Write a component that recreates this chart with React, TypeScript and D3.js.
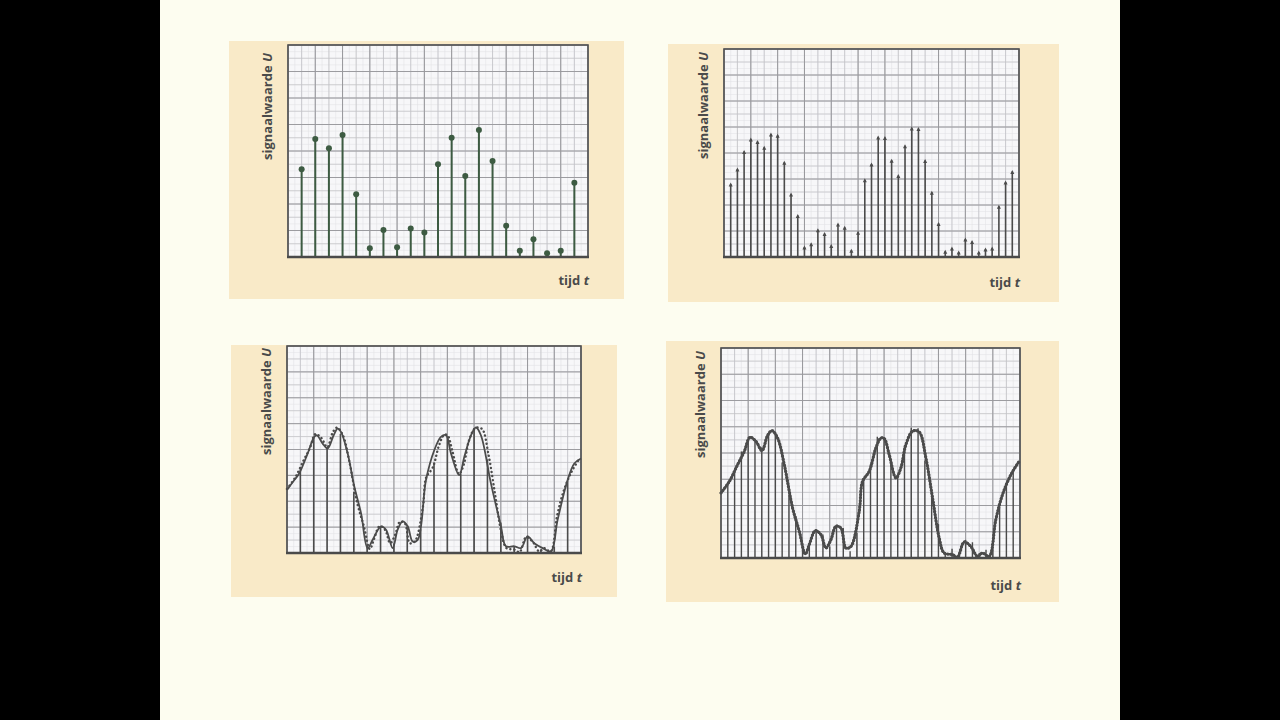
import React from "react";
import * as d3 from "d3";

// ---------- DATA ----------
// Panel 1: coarse sampling, samples at t = 1..21 (time axis 0..22)
const samplesCoarse = [3.31, 4.45, 4.1, 4.6, 2.37, 0.33, 1.02, 0.37, 1.08, 0.92, 3.5, 4.5, 3.06, 4.79, 3.62, 1.18, 0.24, 0.67, 0.14, 0.24, 2.8];
// Panel 2: fine sampling, samples at t = 1..43 (time axis 0..44)
const samplesFine = [
  2.81, 3.38, 4.06, 4.54, 4.44, 4.22, 4.73, 4.68, 3.64, 2.42, 1.6, 0.38, 0.51, 1.05, 0.9, 0.44, 1.27, 1.14, 0.26, 0.95,
  2.97, 3.58, 4.62, 4.6, 3.72, 3.13, 4.28, 4.96, 4.94, 3.71, 2.49, 1.29, 0.22, 0.35, 0.19, 0.69, 0.6, 0.19, 0.31, 0.35,
  1.95, 2.88, 3.29,
];
// Original signal (time axis 0..44)
const signalT = [0, 1.23, 2.45, 3.43, 4.26, 5.15, 6.03, 6.86, 7.5, 8.33, 9.31, 10.54, 11.52, 12.4, 12.99, 13.87, 14.7, 15.44, 16.18, 16.91, 17.65, 18.38, 19.12, 20.34, 20.83, 21.81, 22.79, 23.53, 24.02, 24.75, 25.74, 26.47, 27.21, 28.19, 29.17, 30.15, 31.13, 32.11, 32.84, 34.07, 34.8, 35.78, 36.76, 37.75, 38.48, 39.46, 40.44, 41.42, 42.65, 43.87];
const signalU = [2.48, 2.92, 3.56, 4.06, 4.6, 4.44, 4.09, 4.67, 4.85, 4.57, 3.56, 1.9, 1.02, 0.15, 0.51, 1.04, 0.89, 0.38, 0.7, 1.21, 1.14, 0.38, 0.44, 1.78, 2.92, 3.3, 4.19, 4.57, 4.55, 3.94, 3.05, 3.43, 4.32, 4.83, 4.8, 3.81, 2.29, 0.76, 0.19, 0.13, 0.03, 0.61, 0.44, 0.06, 0.19, 0.06, 1.46, 2.41, 3.17, 3.68];
// Reconstruction from the coarse samples (time axis 0..22)
const reconT = [0, 0.55, 0.92, 1.55, 2.04, 2.24, 2.67, 3.04, 3.49, 3.79, 4.04, 4.54, 5.04, 5.54, 6.03, 6.41, 7.03, 7.41, 7.91, 8.28, 8.65, 9.03, 9.4, 9.78, 10.4, 11.02, 11.52, 11.9, 12.27, 12.89, 13.27, 13.77, 14.14, 14.51, 15.26, 16.01, 16.38, 17.01, 17.51, 18.0, 18.5, 19.13, 19.75, 20.25, 21.0, 21.5, 22.0];
const reconU = [2.44, 2.82, 3.08, 3.85, 4.49, 4.55, 4.23, 4.04, 4.55, 4.81, 4.68, 3.85, 2.56, 1.54, 0.19, 0.51, 1.03, 0.9, 0.19, 0.9, 1.22, 1.03, 0.45, 0.51, 2.82, 3.97, 4.49, 4.55, 3.85, 3.01, 3.72, 4.55, 4.85, 4.55, 2.69, 1.03, 0.26, 0.26, 0.19, 0.64, 0.38, 0.19, 0.06, 1.28, 2.82, 3.46, 3.65];

const yLabel = "signaalwaarde ";
const yVar = "U";
const xLabel = "tijd ";
const xVar = "t";
const uMax = 8;

// ---------- STYLE ----------
const FONT = "'Open Sans', 'DejaVu Sans', sans-serif";
const TEXT = "#4a4a4a";
const INK = "#4b4b4b";
const GREEN = "#3d5b42";
const BEIGE = "#f9eac8";
const PAPER = "#f7f7f9";

type Box = { x: number; y: number; w: number; h: number };
type PanelProps = {
  bg: Box;
  frame: Box;
  tMax: number;
  labelDy: number;
  xLabDy: number;
  children: (x: d3.ScaleLinear<number, number>, y: d3.ScaleLinear<number, number>) => React.ReactNode;
};

function Panel({ bg, frame, tMax, labelDy, xLabDy, children }: PanelProps) {
  const x = d3.scaleLinear().domain([0, tMax]).range([frame.x, frame.x + frame.w]);
  const y = d3.scaleLinear().domain([0, uMax]).range([frame.y + frame.h, frame.y]);
  const step = tMax / 22;
  const vFaint = d3.range(0, tMax + 1e-6, step / 2);
  const vMid = d3.range(0, tMax + 1e-6, step);
  const vMajor = d3.range(0, tMax + 1e-6, step * 2);
  const hFaint = d3.range(0, uMax + 1e-6, 0.25);
  const hMid = d3.range(0, uMax + 1e-6, 0.5);
  const hMajor = d3.range(0, uMax + 1e-6, 1);
  const x0 = frame.x, x1 = frame.x + frame.w, y0 = frame.y, y1 = frame.y + frame.h;
  return (
    <g>
      <rect x={bg.x} y={bg.y} width={bg.w} height={bg.h} fill={BEIGE} />
      <rect x={x0} y={y0} width={frame.w} height={frame.h} fill={PAPER} />
      {hFaint.map((v, i) => <line key={"hf" + i} x1={x0} x2={x1} y1={y(v)} y2={y(v)} stroke="#e4e4e8" strokeWidth={0.6} />)}
      {vFaint.map((v, i) => <line key={"vf" + i} x1={x(v)} x2={x(v)} y1={y0} y2={y1} stroke="#e2e2e6" strokeWidth={0.6} />)}
      {hMid.map((v, i) => <line key={"hm" + i} x1={x0} x2={x1} y1={y(v)} y2={y(v)} stroke="#c6c6ca" strokeWidth={0.8} />)}
      {vMid.map((v, i) => <line key={"vm" + i} x1={x(v)} x2={x(v)} y1={y0} y2={y1} stroke="#c2c2c6" strokeWidth={0.8} />)}
      {hMajor.map((v, i) => <line key={"hM" + i} x1={x0} x2={x1} y1={y(v)} y2={y(v)} stroke="#9c9ca0" strokeWidth={1} />)}
      {vMajor.map((v, i) => <line key={"vM" + i} x1={x(v)} x2={x(v)} y1={y0} y2={y1} stroke="#98989c" strokeWidth={1} />)}
      <rect x={x0} y={y0} width={frame.w} height={frame.h} fill="none" stroke="#505050" strokeWidth={1.6} />
      {children(x, y)}
      <line x1={x0 - 1} x2={x1 + 1} y1={y1} y2={y1} stroke="#4a4a4a" strokeWidth={2.6} />
      <text
        transform={`translate(${x0 - 16},${y0 + labelDy}) rotate(-90)`}
        textAnchor="end"
        fontFamily={FONT}
        fontWeight={700}
        fontSize={13}
        fill={TEXT}
      >
        {yLabel}
        <tspan fontStyle="italic">{yVar}</tspan>
      </text>
      <text x={x1 + 1} y={y1 + xLabDy} textAnchor="end" fontFamily={FONT} fontWeight={700} fontSize={13} fill={TEXT}>
        {xLabel}
        <tspan fontStyle="italic">{xVar}</tspan>
      </text>
    </g>
  );
}

export default function App() {
  const signal = signalT.map((t, i) => [t, signalU[i]] as [number, number]);
  const recon = reconT.map((t, i) => [t, reconU[i]] as [number, number]);
  return (
    <svg width={1280} height={720} style={{ position: "fixed", left: 0, top: 0, display: "block" }}>
      <rect x={0} y={0} width={1280} height={720} fill="#000" />
      <rect x={160} y={0} width={960} height={720} fill="#fdfdf0" />

      {/* Panel 1: coarse samples */}
      <Panel bg={{ x: 229, y: 41, w: 395, h: 258 }} frame={{ x: 288, y: 45, w: 300, h: 212 }} tMax={22} labelDy={8} xLabDy={28}>
        {(x, y) => (
          <g>
            {samplesCoarse.map((v, i) => (
              <g key={i}>
                <line x1={x(i + 1)} x2={x(i + 1)} y1={y(0)} y2={y(v)} stroke={GREEN} strokeWidth={2} />
                <circle cx={x(i + 1)} cy={y(v)} r={3} fill={GREEN} />
              </g>
            ))}
          </g>
        )}
      </Panel>

      {/* Panel 2: fine samples */}
      <Panel bg={{ x: 668, y: 44, w: 391, h: 258 }} frame={{ x: 724, y: 49, w: 295, h: 208 }} tMax={44} labelDy={3} xLabDy={30}>
        {(x, y) => (
          <g>
            {samplesFine.map((v, i) => (
              <g key={i}>
                <line x1={x(i + 1)} x2={x(i + 1)} y1={y(0)} y2={y(v)} stroke={INK} strokeWidth={1.6} />
                <path
                  d={`M${x(i + 1) - 2},${y(v) + 2.5}L${x(i + 1)},${y(v) - 1.5}L${x(i + 1) + 2},${y(v) + 2.5}Z`}
                  fill={INK}
                />
              </g>
            ))}
          </g>
        )}
      </Panel>

      {/* Panel 3: reconstruction from coarse samples */}
      <Panel bg={{ x: 231, y: 345, w: 386, h: 252 }} frame={{ x: 287, y: 346, w: 294, h: 207 }} tMax={22} labelDy={2} xLabDy={29}>
        {(x, y) => {
          const solid = d3.line<[number, number]>().x((d) => x(d[0])).y((d) => y(d[1])).curve(d3.curveCatmullRom.alpha(0.5));
          const dotted = d3.line<[number, number]>().x((d) => x(d[0] / 2)).y((d) => y(d[1])).curve(d3.curveCatmullRom.alpha(0.5));
          return (
            <g>
              {samplesCoarse.map((v, i) => (
                <line key={i} x1={x(i + 1)} x2={x(i + 1)} y1={y(0)} y2={y(v)} stroke={INK} strokeWidth={1.6} />
              ))}
              <path d={dotted(signal) || ""} fill="none" stroke={INK} strokeWidth={2.4} strokeDasharray="0.1,4" strokeLinecap="round" />
              <path d={solid(recon) || ""} fill="none" stroke={INK} strokeWidth={1.8} />
            </g>
          );
        }}
      </Panel>

      {/* Panel 4: reconstruction from fine samples */}
      <Panel bg={{ x: 666, y: 341, w: 393, h: 261 }} frame={{ x: 721, y: 348, w: 299, h: 210 }} tMax={44} labelDy={3} xLabDy={32}>
        {(x, y) => {
          const line = d3.line<[number, number]>().x((d) => x(d[0])).y((d) => y(d[1])).curve(d3.curveCatmullRom.alpha(0.5));
          return (
            <g>
              {samplesFine.map((v, i) => (
                <line key={i} x1={x(i + 1)} x2={x(i + 1)} y1={y(0)} y2={y(v)} stroke={INK} strokeWidth={1.4} />
              ))}
              <path d={line(signal) || ""} fill="none" stroke={INK} strokeWidth={2.2} />
              <path d={line(signal) || ""} fill="none" stroke={INK} strokeWidth={3.2} strokeDasharray="0.1,3" strokeLinecap="round" />
            </g>
          );
        }}
      </Panel>
    </svg>
  );
}
